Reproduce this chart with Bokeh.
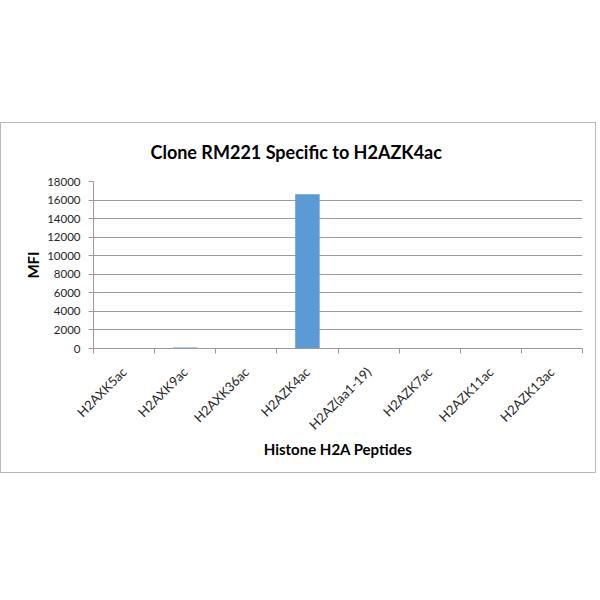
from math import pi
from bokeh.plotting import figure
from bokeh.models import Range1d, FixedTicker, Title, Spacer, ColumnDataSource, NumeralTickFormatter
from bokeh.layouts import column
from bokeh.embed import file_html
from bokeh.resources import INLINE

# ---- data ----
categories = ["H2AXK5ac", "H2AXK9ac", "H2AXK36ac", "H2AZK4ac",
              "H2AZ(aa1-19)", "H2AZK7ac", "H2AZK11ac", "H2AZK13ac"]
mfi = [15, 110, 10, 16620, 8, 6, 5, 5]
y_ticks = [0, 2000, 4000, 6000, 8000, 10000, 12000, 14000, 16000, 18000]
title_text = "Clone RM221 Specific to H2AZK4ac"
x_label = "Histone H2A Peptides"
y_label = "MFI"

FONT = "Lato"
GRID = "#9a9a9a"
TEXT = "#262626"

n = len(categories)
centers = [i + 0.5 for i in range(n)]
bounds = list(range(n + 1))
source = ColumnDataSource(dict(x=centers, top=mfi, cat=categories))

FRAME_H = 167
p = figure(width=596, height=351,
           x_range=Range1d(0, n), y_range=Range1d(0, y_ticks[-1]),
           output_backend="svg", toolbar_location=None,
           min_border_left=92, min_border_right=15,
           min_border_top=58, min_border_bottom=351 - 58 - FRAME_H)
p.outline_line_color = None
p.styles = {"border": "1px solid #b8b8b8"}

p.add_layout(Title(text=title_text, align="left", offset=57,
                   vertical_align="top", standoff=33,
                   text_font=FONT, text_font_size="18px",
                   text_font_style="bold", text_color="#000000"), "above")

p.vbar(x="x", top="top", width=0.4, source=source,
       fill_color="#5B9BD5", line_color=None)

# grid
p.xgrid.grid_line_color = None
p.ygrid.ticker = FixedTicker(ticks=y_ticks)
p.ygrid.grid_line_color = GRID
p.ygrid.grid_line_width = 1

# y axis
ya = p.yaxis[0]
ya.ticker = FixedTicker(ticks=y_ticks)
ya.formatter = NumeralTickFormatter(format="0")
ya.axis_line_color = GRID
ya.major_tick_line_color = GRID
ya.major_tick_out = 5
ya.major_tick_in = 0
ya.minor_tick_line_color = None
ya.major_label_standoff = 8
ya.major_label_text_font = FONT
ya.major_label_text_font_size = "11.5px"
ya.major_label_text_color = TEXT
ya.axis_label = y_label
ya.axis_label_text_font = FONT
ya.axis_label_text_font_size = "15px"
ya.axis_label_text_font_style = "bold"
ya.axis_label_text_color = "#000000"
ya.axis_label_standoff = 2

# x axis
xa = p.xaxis[0]
xa.ticker = FixedTicker(ticks=centers, minor_ticks=bounds)
xa.major_label_overrides = {c: lab for c, lab in zip(centers, categories)}
xa.major_label_orientation = pi / 4
xa.axis_line_color = GRID
xa.major_tick_line_color = None
xa.major_tick_out = 0
xa.major_tick_in = 0
xa.minor_tick_line_color = GRID
xa.minor_tick_out = 5
xa.minor_tick_in = 0
xa.major_label_standoff = 16
xa.major_label_text_font = FONT
xa.major_label_text_font_size = "13px"
xa.major_label_text_color = TEXT
xa.axis_label = x_label
xa.axis_label_text_font = FONT
xa.axis_label_text_font_size = "15px"
xa.axis_label_text_font_style = "bold"
xa.axis_label_text_color = "#000000"
xa.axis_label_standoff = -1

layout = column(Spacer(width=596, height=122), p)
open("out.html", "w").write(file_html(layout, INLINE))
